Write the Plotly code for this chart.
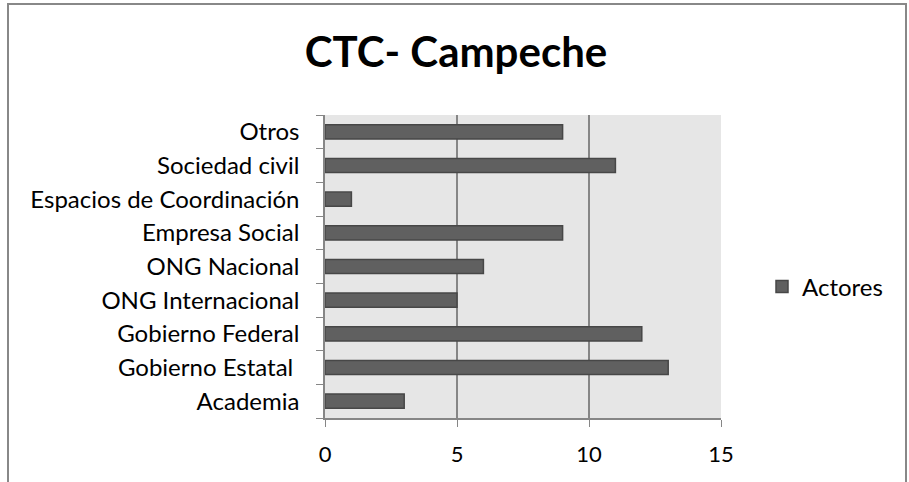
import plotly.graph_objects as go

# categories bottom -> top, as plotly draws them
categories = ['Academia', 'Gobierno Estatal ', 'Gobierno Federal', 'ONG Internacional',
              'ONG Nacional', 'Empresa Social', 'Espacios de Coordinación',
              'Sociedad civil', 'Otros']
actores = [3, 13, 12, 5, 6, 9, 1, 11, 9]
x_ticks = [0, 5, 10, 15]

W, H = 909, 482
L, R, T, B = 325, 909 - 721, 115, 482 - 418
pw, ph = W - L - R, H - T - B

def px_x(p):
    return (p - L) / pw

def px_y(p):
    return (H - B - p) / ph

FONT = 'Lato'

fig = go.Figure()
fig.add_trace(go.Bar(
    y=categories, x=actores, name='Actores', orientation='h', width=0.42,
    marker=dict(color='#606060', line=dict(color='#474747', width=1.5)),
))

fig.update_layout(
    width=W, height=H,
    margin=dict(l=L, r=R, t=T, b=B, autoexpand=False),
    paper_bgcolor='white', plot_bgcolor='#e6e6e6',
    title=dict(text='<b>CTC- Campeche</b>', x=px_x(456), xref='paper', xanchor='center',
               y=1 - 52 / H, yanchor='middle',
               font=dict(family=FONT, size=42, color='black')),
    font=dict(family=FONT, size=24, color='black'),
    showlegend=True,
    legend=dict(x=px_x(762), y=px_y(287), xanchor='left', yanchor='middle',
                font=dict(family=FONT, size=24), itemwidth=30,
                bgcolor='rgba(0,0,0,0)'),
    shapes=[dict(type='rect', xref='paper', yref='paper',
                 x0=px_x(8), x1=px_x(906), y0=px_y(4), y1=px_y(500),
                 line=dict(color='#888888', width=2), layer='below')],
)
fig.update_xaxes(range=[0, 15], tickvals=x_ticks, showgrid=True, gridcolor='#868686',
                 gridwidth=1.5, showline=True, linecolor='#868686', linewidth=1.5,
                 ticks='outside', ticklen=7, tickcolor='#868686', zeroline=False,
                 tickfont=dict(size=22), ticklabelstandoff=9)
fig.update_yaxes(showgrid=False, showline=True, linecolor='#868686', linewidth=1.5,
                 ticks='outside', ticklen=7, tickcolor='#868686', tickson='boundaries',
                 ticklabelstandoff=19)

# drop the default 8px page margin so the figure sits at the window corner
fig.write_html('out.html', config={'displayModeBar': False},
               post_script="document.body.style.margin='0';")
